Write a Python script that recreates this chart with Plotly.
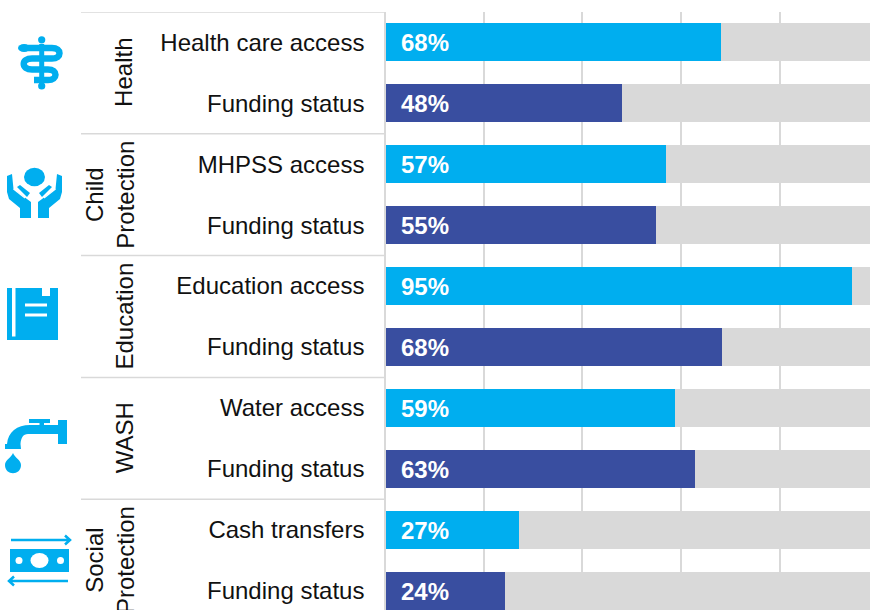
import plotly.graph_objects as go

W, H = 870, 610
PL, PT = 386, 12

row_labels = ["Health care access", "Funding status", "MHPSS access", "Funding status",
              "Education access", "Funding status", "Water access", "Funding status",
              "Cash transfers", "Funding status"]
values = [68.0, 47.9, 56.9, 54.8, 94.7, 68.2, 58.6, 62.7, 27.0, 24.2]
group_labels = ["Health", "Child<br>Protection", "Education", "WASH", "Social<br>Protection"]
gridticks = [19.9, 39.8, 59.9, 80]

CYAN, NAVY, GREY = "#00AEEF", "#394EA0", "#D9D9D9"
FONT = "Liberation Sans, Arial, sans-serif"
rows = list(range(len(values)))
colors = [CYAN if i % 2 == 0 else NAVY for i in rows]
rest = [100 - v for v in values]
labels = [f"{v:.0f}%" for v in values]

fig = go.Figure()
fig.add_bar(y=rows, x=values, orientation="h", marker=dict(color=colors, line_width=0), width=0.625)
fig.add_bar(y=rows, x=rest, orientation="h", marker=dict(color=GREY, line_width=0), width=0.625)
fig.add_scatter(y=[r + 0.05 for r in rows], x=[3.05] * len(rows), mode="text", text=labels,
                textposition="middle right",
                textfont=dict(family=FONT, size=24, color="white", weight="bold"))


def px(x):
    return (x - PL) / (W - PL)


def py(y):
    return 1 - (y - PT) / (H - PT)


def P(cmds):
    """Icon outline given in figure pixels -> paper-referenced SVG path."""
    out = []
    for c in cmds:
        if isinstance(c, str):
            out.append(c)
        else:
            out.append(f"{px(c[0]):.5f},{py(c[1]):.5f}")
    return " ".join(out)


def solid(cmds, color=CYAN):
    fig.add_shape(type="path", xref="paper", yref="paper", path=P(cmds), fillcolor=color,
                  line=dict(width=0), layer="above")


def stroke(cmds, w, color=CYAN):
    fig.add_shape(type="path", xref="paper", yref="paper", path=P(cmds),
                  line=dict(color=color, width=w), layer="above")


def ellipse(cx, cy, rx, ry, color=CYAN):
    fig.add_shape(type="circle", xref="paper", yref="paper", x0=px(cx - rx), x1=px(cx + rx),
                  y0=py(cy + ry), y1=py(cy - ry), fillcolor=color, line=dict(width=0), layer="above")


def box(x0, y0, x1, y1, color=CYAN):
    fig.add_shape(type="rect", xref="paper", yref="paper", x0=px(x0), x1=px(x1), y0=py(y1), y1=py(y0),
                  fillcolor=color, line=dict(width=0), layer="above")


# Rod of Asclepius
ellipse(41.7, 39.8, 3.6, 3.6)
box(39.2, 44, 44.2, 86)
ellipse(41.7, 86, 3.6, 3.6)
ellipse(24, 48, 6, 4)
stroke(["M", (24, 48), "L", (52, 48), "C", (62, 48), (62, 58.5), (52, 58.5), "L", (32, 58.5),
        "C", (21, 58.5), (21, 69.5), (32, 69.5), "L", (48, 69.5), "C", (58, 69.5), (58, 80), (48, 80), "L", (34, 80)], 6.5)

# Protecting hands
ellipse(34.5, 177, 10.5, 9.2)
for m in (lambda x: x, lambda x: 69 - x):
    solid(["M", (m(7), 176), "L", (m(12), 174), "L", (m(13.5), 189), "L", (m(31), 202), "L", (m(31), 218),
           "L", (m(20), 218), "L", (m(20), 208), "L", (m(9), 199), "L", (m(7), 192), "Z"])
    solid(["M", (m(17), 187), "L", (m(20), 185), "L", (m(30), 193), "L", (m(27), 197), "Z"])
    stroke(["M", (m(13.5), 189), "L", (m(25), 198)], 1.2, "white")

# Book
box(7, 288, 58, 340)
box(42, 288, 50, 296, "white")
box(12, 288, 15.5, 336.5, "white")
box(25, 303.5, 47, 306.5, "white")
box(25, 313.5, 47, 316.5, "white")

# Tap
box(58, 420, 67, 444)
box(29, 419, 50, 423)
box(39.5, 422, 44, 430)
solid(["M", (60, 425), "L", (60, 434), "L", (28, 434), "C", (23, 434), (21, 438), (20.5, 444), "L", (21, 449),
       "L", (5, 449), "L", (5, 444), "L", (7, 444), "C", (8, 432), (17, 425), (30, 425), "Z"])
solid(["M", (13, 453), "C", (15, 458), (21, 460), (21, 465), "C", (21, 476), (5, 476), (5, 465),
       "C", (5, 460), (11, 458), (13, 453), "Z"])

# Cash transfers
box(10, 549, 69, 572)
ellipse(39.5, 560.5, 9, 7.5, "white")
ellipse(19, 560.5, 3.5, 3.5, "white")
ellipse(60.5, 560.5, 3.5, 3.5, "white")
stroke(["M", (11, 540), "L", (69, 540), "M", (65, 535.5), "L", (70, 540), "L", (65, 544.5)], 2.5)
stroke(["M", (68, 581), "L", (10, 581), "M", (14, 576.5), "L", (9, 581), "L", (14, 585.5)], 2.5)

# Group separators
for b in [-0.5, 1.5, 3.5, 5.5, 7.5]:
    fig.add_shape(type="line", xref="paper", yref="y", x0=px(81), x1=0, y0=b, y1=b,
                  line=dict(color=GREY, width=1.5), layer="above")

# Group titles
for i, g in enumerate(group_labels):
    fig.add_annotation(text=g, xref="paper", yref="y", x=px(124 if "<br>" not in g else 110), y=2 * i + 0.5,
                       textangle=-90, showarrow=False, xanchor="center", yanchor="middle", align="center",
                       font=dict(family=FONT, size=24, color="#111111"))

fig.update_layout(
    width=W, height=H, margin=dict(l=PL, r=0, t=PT, b=0, pad=0), barmode="stack", showlegend=False,
    hovermode=False, paper_bgcolor="white", plot_bgcolor="white",
    xaxis=dict(range=[0, (W - PL) / 4.925], tickvals=gridticks, showticklabels=False, ticks="",
               gridcolor=GREY, gridwidth=1.5, zeroline=False, showline=False),
    yaxis=dict(range=[(H - PT) / 60.9 - 0.5, -0.5], tickvals=rows, ticktext=row_labels, ticks="",
               showgrid=False, zeroline=False, showline=True, linecolor=GREY, linewidth=1.5,
               ticklabelstandoff=15, tickfont=dict(family=FONT, size=24, color="#111111")),
)
fig.write_html("out.html", config={"displayModeBar": False},
               post_script="document.body.style.margin='0';document.documentElement.style.overflow='hidden';")
